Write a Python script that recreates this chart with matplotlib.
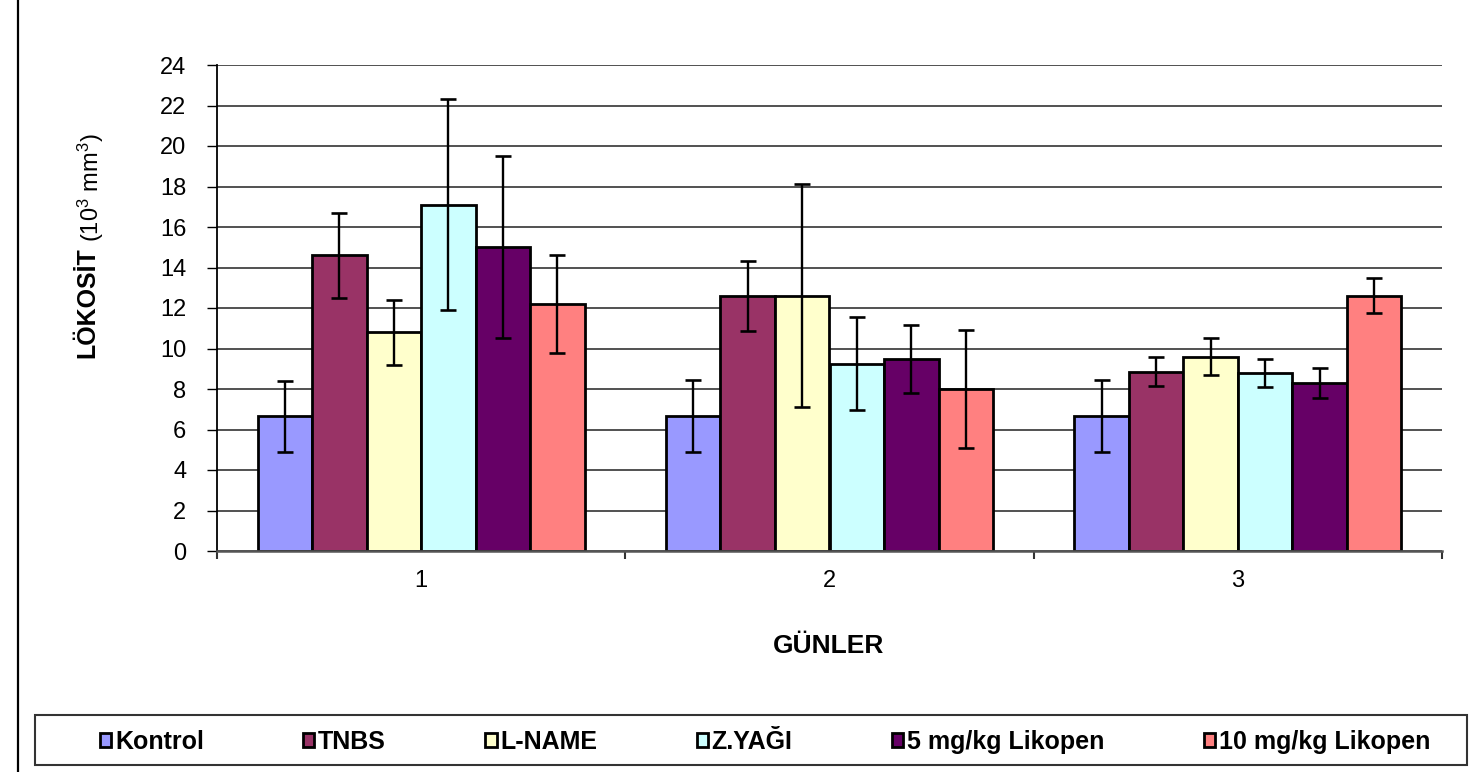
import numpy as np
import matplotlib
matplotlib.use("Agg")
import matplotlib.pyplot as plt
from matplotlib.lines import Line2D
from matplotlib.patches import Rectangle

plt.rcParams['font.family'] = ['Liberation Sans', 'DejaVu Sans']
plt.rcParams['mathtext.fontset'] = 'custom'
plt.rcParams['mathtext.rm'] = 'Liberation Sans'
plt.rcParams['mathtext.default'] = 'regular'

days = ['1', '2', '3']
groups = ['Kontrol', 'TNBS', 'L-NAME', 'Z.YAĞI', '5 mg/kg Likopen', '10 mg/kg Likopen']
colors = ['#9999FF', '#993366', '#FFFFCC', '#CCFFFF', '#660066', '#FF8080']

# mean values per group (day 1, 2, 3)
kontrol = [6.65, 6.65, 6.65]
tnbs = [14.6, 12.6, 8.85]
lname = [10.8, 12.6, 9.6]
zyagi = [17.1, 9.25, 8.8]
lik5 = [15.0, 9.5, 8.3]
lik10 = [12.2, 8.0, 12.6]

# error bar half-lengths
kontrol_sd = [1.75, 1.77, 1.78]
tnbs_sd = [2.1, 1.72, 0.72]
lname_sd = [1.6, 5.5, 0.9]
zyagi_sd = [5.2, 2.3, 0.7]
lik5_sd = [4.5, 1.68, 0.76]
lik10_sd = [2.4, 2.9, 0.87]

means = [kontrol, tnbs, lname, zyagi, lik5, lik10]
sds = [kontrol_sd, tnbs_sd, lname_sd, zyagi_sd, lik5_sd, lik10_sd]

W, H = 1477, 772
fig = plt.figure(figsize=(W / 100, H / 100), dpi=100)
ax = fig.add_axes([217 / W, 1 - 551 / H, (1442 - 217) / W, (551 - 65) / H])

x = np.arange(len(days))
width = 0.1335
offsets = (np.arange(len(groups)) - 2.5) * width

handles = []
for i in range(len(groups)):
    b = ax.bar(x + offsets[i], means[i], width, color=colors[i], edgecolor='black',
               linewidth=2.0, label=groups[i], zorder=2)
    handles.append(b)
    ax.errorbar(x + offsets[i], means[i], yerr=sds[i], fmt='none', ecolor='black',
                elinewidth=1.7, capsize=5.5, capthick=1.9, zorder=3)

ax.set_xlim(-0.5, 2.5)
ax.set_ylim(0, 24)
ax.set_yticks(np.arange(0, 25, 2))
ax.set_axisbelow(True)
ax.yaxis.grid(True, color='#222222', linewidth=1.1)

ax.set_xticks([-0.5, 0.5, 1.5, 2.5])
ax.set_xticklabels([])
ax.set_xticks(x, minor=True)
ax.set_xticklabels(days, minor=True)
ax.tick_params(axis='x', which='major', direction='out', length=6, width=1.5, color='#333333')
ax.tick_params(axis='x', which='minor', length=0, pad=14, labelsize=17)
ax.tick_params(axis='y', direction='out', length=7, width=1, color='black', pad=15, labelsize=17)

for s in ['top', 'right']:
    ax.spines[s].set_visible(False)
ax.spines['left'].set_color('black')
ax.spines['left'].set_linewidth(1.3)
ax.spines['bottom'].set_color('#555555')
ax.spines['bottom'].set_linewidth(1.8)

fig.text(829 / W, 1 - 646 / H, 'GÜNLER', fontsize=19, fontweight='bold', ha='center', va='center')

renderer = fig.canvas.get_renderer()

# y label: bold word plus smaller unit text stacked along the axis
t1 = fig.text(87 / W, 1 - 358 / H, 'LÖKOSİT', fontsize=18, fontweight='bold',
              rotation=90, ha='center', va='bottom')
bb = t1.get_window_extent(renderer)
fig.text(91 / W, (bb.y1 + 5) / H, r'(10$^3$ mm$^3$)', fontsize=17,
         rotation=90, ha='center', va='bottom')

# legend box drawn separately, entries spread to match the original
fig.add_artist(Rectangle((35 / W, 1 - 765 / H), 1432 / W, 50 / H, transform=fig.transFigure,
                         facecolor='white', edgecolor='#333333', linewidth=1.5, zorder=1))
leg_kw = dict(loc='center', bbox_to_anchor=(765 / W, 1 - 742 / H), bbox_transform=fig.transFigure,
              ncol=6, frameon=False, prop={'size': 18, 'weight': 'bold'},
              handlelength=0.45, handleheight=0.45,
              handletextpad=0.15, borderpad=0, borderaxespad=0)
leg = fig.legend(handles, groups, columnspacing=2.0, **leg_kw)
w0 = leg.get_window_extent(renderer).width
leg.remove()
col = 2.0 + (1330 - w0) / 5 / 25.0
leg = fig.legend(handles, groups, columnspacing=col, **leg_kw)
leg.set_zorder(2)

fig.add_artist(Line2D([17.5 / W, 17.5 / W], [0, 1], transform=fig.transFigure, color='black', lw=1.6))

fig.savefig('out.png', dpi=100)
